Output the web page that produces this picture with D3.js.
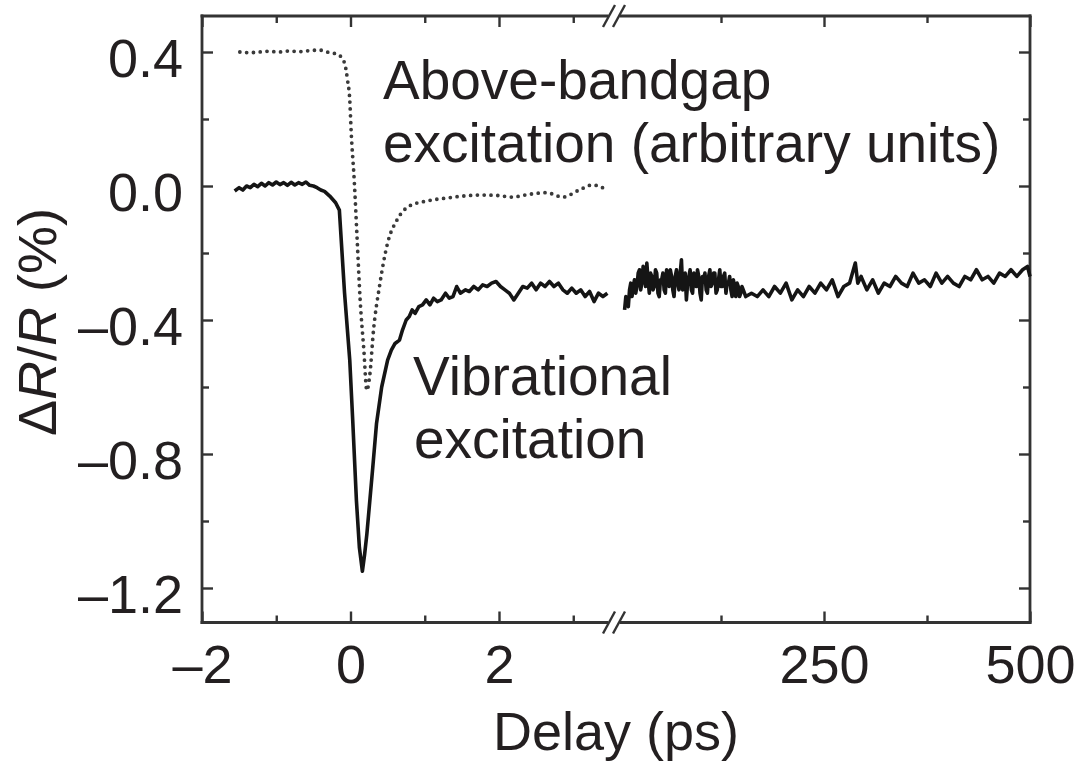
<!DOCTYPE html>
<html>
<head>
<meta charset="utf-8">
<script src="https://cdn.jsdelivr.net/npm/d3@7"></script>
<style>
  body { margin: 0; background: #fff; }
  text { font-family: "Liberation Sans", Arial, Helvetica, sans-serif; fill: #231f20; }
</style>
</head>
<body>
<script>
// ---- data ----
// vibrational excitation, short delays (ps, %)
var vibDelayShort = [-1.56,-1.50,-1.45,-1.40,-1.35,-1.30,-1.25,-1.20,-1.15,-1.10,-1.05,-1.00,-0.95,-0.90,-0.85,-0.80,-0.75,-0.70,-0.65,-0.60,-0.55,-0.50,-0.45,-0.40,-0.35,-0.28,-0.20,-0.15,-0.08,-0.01,0.03,0.08,0.12,0.16,0.19,0.22,0.26,0.30,0.35,0.42,0.50,0.55,0.60,0.66,0.70,0.75,0.79,0.83,0.87,0.92,0.97,1.02,1.07,1.12,1.17,1.22,1.28,1.33,1.38,1.43,1.48,1.55,1.60,1.66,1.72,1.78,1.84,1.90,1.96,2.02,2.08,2.14,2.20,2.26,2.32,2.38,2.44,2.50,2.56,2.62,2.68,2.74,2.80,2.86,2.92,2.98,3.04,3.10,3.16,3.22,3.28,3.34,3.40,3.46];
var vibSignalShort = [-0.015,-0.005,-0.012,0.000,-0.005,0.005,-0.002,0.008,0.000,0.010,0.003,0.012,0.004,0.010,0.002,0.011,0.003,0.010,0.005,0.012,0.002,0.000,-0.005,-0.012,-0.016,-0.030,-0.050,-0.072,-0.32,-0.52,-0.70,-0.94,-1.08,-1.15,-1.10,-1.04,-0.94,-0.84,-0.71,-0.60,-0.52,-0.49,-0.47,-0.46,-0.43,-0.40,-0.39,-0.37,-0.38,-0.36,-0.355,-0.34,-0.355,-0.335,-0.345,-0.34,-0.32,-0.335,-0.33,-0.30,-0.32,-0.31,-0.315,-0.30,-0.31,-0.295,-0.30,-0.29,-0.285,-0.30,-0.31,-0.32,-0.34,-0.32,-0.30,-0.305,-0.29,-0.31,-0.29,-0.30,-0.285,-0.30,-0.29,-0.31,-0.32,-0.305,-0.32,-0.31,-0.33,-0.315,-0.345,-0.32,-0.33,-0.32];

// vibrational excitation, long delays (ps, %)
var vibDelayLong = [8,9.5,11,12.5,14,15.5,17,18.5,20,21.5,23,24.5,26,27.5,29,30.5,32,33.5,35,36.5,38,39.5,41,42.5,44,45.5,47,48.5,50,51.5,53,54.5,56,57.5,59,60.5,62,63.5,65,66.5,68,69.5,71,72.5,74,75.5,77,78.5,80,81.5,83,84.5,86,87.5,89,90.5,92,93.5,95,96.5,98,99.5,101,102.5,104,105.5,107,108.5,110,111.5,113,114.5,116,117.5,119,120.5,122,123.5,125,126.5,128,129.5,131,132.5,134,135.5,137,138.5,140,141.5,143,144.5,146,147.5,149,150.5,152,153.5,155,162,169,176,183,190,197,204,211,218,225,232,239,246,253,260,267,274,281,288,291,295,302,309,316,323,330,337,344,351,358,365,372,379,386,393,400,407,414,421,428,435,442,449,456,463,470,477,484,491,497,500];
var vibSignalLong = [-0.37,-0.33,-0.35,-0.36,-0.31,-0.29,-0.33,-0.30,-0.28,-0.32,-0.30,-0.26,-0.25,-0.31,-0.29,-0.24,-0.26,-0.30,-0.23,-0.28,-0.32,-0.26,-0.27,-0.31,-0.30,-0.25,-0.26,-0.32,-0.33,-0.28,-0.28,-0.26,-0.31,-0.32,-0.25,-0.28,-0.30,-0.25,-0.27,-0.31,-0.33,-0.27,-0.25,-0.29,-0.31,-0.26,-0.22,-0.31,-0.29,-0.26,-0.34,-0.29,-0.27,-0.25,-0.31,-0.32,-0.26,-0.27,-0.30,-0.25,-0.27,-0.32,-0.34,-0.27,-0.28,-0.26,-0.31,-0.32,-0.27,-0.25,-0.30,-0.29,-0.26,-0.26,-0.32,-0.31,-0.28,-0.25,-0.30,-0.30,-0.27,-0.26,-0.32,-0.29,-0.29,-0.27,-0.31,-0.33,-0.28,-0.30,-0.33,-0.29,-0.30,-0.33,-0.32,-0.30,-0.31,-0.32,-0.33,-0.32,-0.33,-0.31,-0.33,-0.30,-0.32,-0.29,-0.34,-0.31,-0.33,-0.30,-0.32,-0.29,-0.31,-0.28,-0.33,-0.30,-0.29,-0.23,-0.29,-0.27,-0.31,-0.28,-0.32,-0.29,-0.30,-0.27,-0.29,-0.30,-0.26,-0.29,-0.28,-0.30,-0.26,-0.29,-0.27,-0.29,-0.30,-0.27,-0.28,-0.25,-0.28,-0.27,-0.29,-0.26,-0.27,-0.25,-0.27,-0.25,-0.24,-0.27];

// above-bandgap excitation (arbitrary units), short delays only
var gapDelay = [-1.49,-1.36,-1.23,-1.10,-0.96,-0.83,-0.69,-0.55,-0.42,-0.32,-0.24,-0.15,-0.08,-0.04,-0.01,0.01,0.05,0.09,0.13,0.18,0.22,0.26,0.31,0.39,0.50,0.63,0.79,1.02,1.29,1.52,1.74,1.96,2.18,2.40,2.64,2.86,3.08,3.26,3.46];
var gapSignal = [0.40,0.398,0.40,0.402,0.40,0.403,0.401,0.404,0.406,0.40,0.397,0.39,0.367,0.316,0.257,0.158,0.018,-0.161,-0.34,-0.49,-0.61,-0.564,-0.43,-0.30,-0.17,-0.10,-0.06,-0.045,-0.036,-0.03,-0.027,-0.028,-0.033,-0.025,-0.02,-0.033,-0.012,0.003,-0.012];

var yMajor = [0.4, 0.0, -0.4, -0.8, -1.2];
var yMinor = [0.2, -0.2, -0.6, -1.0];
var xShortMajor = [-2, 0, 2];
var xShortMinor = [-1, 1, 3];
var xLongMajor = [250, 500];
var xLongMinor = [125, 375];

// ---- layout ----
var width = 1079, height = 764;
var frame = {left: 202, right: 1030, top: 16, bottom: 622.5};
var breakX = [609, 619];

var svg = d3.select("body").append("svg")
    .attr("width", width)
    .attr("height", height);

var y = d3.scaleLinear().domain([-1.2, 0.4]).range([588, 52]);
var xShort = d3.scaleLinear().domain([-2, 2]).range([202, 499]);
var xLong = d3.scaleLinear().domain([0, 500]).range([618, 1030]);

var fmtY = function(d) { return d3.format(".1f")(d).replace("−", "\u2013").replace("-", "\u2013"); };
var fmtX = function(d) { return String(d).replace("−", "\u2013").replace("-", "\u2013"); };

var ink = "#333";

function styleAxis(g, labels) {
  g.select(".domain").remove();
  g.selectAll(".tick line").attr("stroke", ink).attr("stroke-width", 2.4);
  if (!labels) g.selectAll(".tick text").remove();
  g.selectAll(".tick text")
    .attr("font-size", 54)
    .attr("fill", "#231f20")
    .style("font-family", "'Liberation Sans', Arial, sans-serif");
}

// left axis
svg.append("g").attr("transform", "translate(" + frame.left + ",0)")
    .call(d3.axisLeft(y).tickValues(yMajor).tickFormat(fmtY).tickSizeInner(-11).tickSizeOuter(0).tickPadding(19))
    .call(styleAxis, true)
    .selectAll(".tick text").attr("dy", "0.45em");
svg.append("g").attr("transform", "translate(" + frame.left + ",0)")
    .call(d3.axisLeft(y).tickValues(yMinor).tickSizeInner(-7).tickSizeOuter(0))
    .call(styleAxis, false);

// right axis
svg.append("g").attr("transform", "translate(" + frame.right + ",0)")
    .call(d3.axisRight(y).tickValues(yMajor).tickSizeInner(-11).tickSizeOuter(0))
    .call(styleAxis, false);
svg.append("g").attr("transform", "translate(" + frame.right + ",0)")
    .call(d3.axisRight(y).tickValues(yMinor).tickSizeInner(-7).tickSizeOuter(0))
    .call(styleAxis, false);

// bottom and top axes (two segments each)
[[xShort, xShortMajor, xShortMinor], [xLong, xLongMajor, xLongMinor]].forEach(function(s) {
  svg.append("g").attr("transform", "translate(0," + frame.bottom + ")")
      .call(d3.axisBottom(s[0]).tickValues(s[1]).tickFormat(fmtX).tickSizeInner(-11).tickSizeOuter(0).tickPadding(0))
      .call(styleAxis, true)
      .selectAll(".tick text").attr("y", 60).attr("dy", null);
  svg.append("g").attr("transform", "translate(0," + frame.bottom + ")")
      .call(d3.axisBottom(s[0]).tickValues(s[2]).tickSizeInner(-7).tickSizeOuter(0))
      .call(styleAxis, false);
  svg.append("g").attr("transform", "translate(0," + frame.top + ")")
      .call(d3.axisTop(s[0]).tickValues(s[1]).tickSizeInner(-11).tickSizeOuter(0))
      .call(styleAxis, false);
  svg.append("g").attr("transform", "translate(0," + frame.top + ")")
      .call(d3.axisTop(s[0]).tickValues(s[2]).tickSizeInner(-7).tickSizeOuter(0))
      .call(styleAxis, false);
});

// frame with the axis break
var frameLines = [
  [frame.left, frame.top, frame.left, frame.bottom],
  [frame.right, frame.top, frame.right, frame.bottom],
  [frame.left, frame.top, breakX[0] - 2, frame.top],
  [breakX[1] + 2, frame.top, frame.right, frame.top],
  [frame.left, frame.bottom, breakX[0] - 2, frame.bottom],
  [breakX[1] + 2, frame.bottom, frame.right, frame.bottom]
];
svg.append("g").selectAll("line").data(frameLines).enter().append("line")
    .attr("x1", function(d) { return d[0]; })
    .attr("y1", function(d) { return d[1]; })
    .attr("x2", function(d) { return d[2]; })
    .attr("y2", function(d) { return d[3]; })
    .attr("stroke", ink)
    .attr("stroke-width", 2.8)
    .attr("stroke-linecap", "square");

var slashes = [];
[frame.top, frame.bottom].forEach(function(yy) {
  breakX.forEach(function(bx) { slashes.push([bx - 6, yy + 11, bx + 6, yy - 11]); });
});
svg.append("g").selectAll("line").data(slashes).enter().append("line")
    .attr("x1", function(d) { return d[0]; })
    .attr("y1", function(d) { return d[1]; })
    .attr("x2", function(d) { return d[2]; })
    .attr("y2", function(d) { return d[3]; })
    .attr("stroke", ink)
    .attr("stroke-width", 2.4);

// curves
function zip(xs, ys) { return xs.map(function(v, i) { return [v, ys[i]]; }); }

var lineShort = d3.line().x(function(d) { return xShort(d[0]); }).y(function(d) { return y(d[1]); });
var lineLong = d3.line().x(function(d) { return xLong(d[0]); }).y(function(d) { return y(d[1]); });

svg.append("path")
    .datum(zip(gapDelay, gapSignal))
    .attr("d", lineShort.curve(d3.curveMonotoneX))
    .attr("fill", "none")
    .attr("stroke", "#3a3a3a")
    .attr("stroke-width", 3.8)
    .attr("stroke-linecap", "round")
    .attr("stroke-dasharray", "0,6.8");

lineShort.curve(d3.curveLinear);

svg.append("path")
    .datum(zip(vibDelayShort, vibSignalShort))
    .attr("d", lineShort)
    .attr("fill", "none")
    .attr("stroke", "#151515")
    .attr("stroke-width", 3.6)
    .attr("stroke-linejoin", "round");

svg.append("path")
    .datum(zip(vibDelayLong, vibSignalLong))
    .attr("d", lineLong)
    .attr("fill", "none")
    .attr("stroke", "#151515")
    .attr("stroke-width", 3.6)
    .attr("stroke-linejoin", "round");

// annotations
var notes = [
  {text: "Above-bandgap", x: 383, y: 99},
  {text: "excitation (arbitrary units)", x: 383, y: 162},
  {text: "Vibrational", x: 413, y: 395},
  {text: "excitation", x: 414, y: 458}
];
svg.append("g").selectAll("text").data(notes).enter().append("text")
    .attr("x", function(d) { return d.x; })
    .attr("y", function(d) { return d.y; })
    .attr("font-size", 55)
    .text(function(d) { return d.text; });

// axis titles
svg.append("text")
    .attr("x", 616)
    .attr("y", 750)
    .attr("text-anchor", "middle")
    .attr("font-size", 54)
    .text("Delay (ps)");

var yt = svg.append("text")
    .attr("transform", "translate(56,322) rotate(-90)")
    .attr("text-anchor", "middle")
    .attr("font-size", 54);
yt.append("tspan").text("\u0394");
yt.append("tspan").attr("font-style", "italic").text("R");
yt.append("tspan").text("/");
yt.append("tspan").attr("font-style", "italic").text("R");
yt.append("tspan").text(" (%)");
</script>
</body>
</html>
